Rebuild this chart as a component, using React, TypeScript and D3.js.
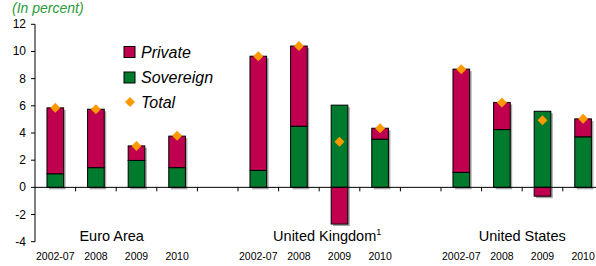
import * as d3 from 'd3'

const groups = ['Euro Area', 'United Kingdom', 'United States']
const periods = ['2002-07', '2008', '2009', '2010']
const sovereign = [
  [1.0, 1.45, 1.98, 1.45],
  [1.25, 4.5, 6.05, 3.55],
  [1.1, 4.25, 5.6, 3.72],
]
const privateVals = [
  [4.85, 4.3, 1.07, 2.32],
  [8.4, 5.9, -2.7, 0.8],
  [7.6, 2.0, -0.65, 1.32],
]
const totals = [
  [5.85, 5.75, 3.05, 3.8],
  [9.65, 10.4, 3.35, 4.35],
  [8.7, 6.25, 4.93, 5.05],
]
const yTicks = [-4, -2, 0, 2, 4, 6, 8, 10, 12]

const W = 596
const H = 266
const PRIVATE = '#c0004e'
const SOVEREIGN = '#007a2c'
const TOTAL = '#ff9900'
const FONT = '"Liberation Sans", Arial, sans-serif'

// 14 slots: 4 bars, one gap, 4 bars, one gap, 4 bars
const slots: string[] = []
groups.forEach((g, gi) => {
  periods.forEach(p => slots.push(`${g}|${p}`))
  if (gi < groups.length - 1) slots.push(`gap${gi}`)
})

const x = d3.scaleBand().domain(slots).range([35, 603.4]).padding(0)
const y = d3.scaleLinear().domain([-4, 12]).range([241.7, 24.3])
const barW = x.bandwidth() * 0.41
const diamond = d3.symbol().type(d3.symbolSquare).size(50)()

const labelOffset = [-4.5, 8, 0]

export default function App() {
  const bars: JSX.Element[] = []
  groups.forEach((g, gi) => {
    periods.forEach((p, pi) => {
      const cx = x(`${g}|${p}`)! + x.bandwidth() / 2
      const s = sovereign[gi][pi]
      const pv = privateVals[gi][pi]
      const segs: { v0: number; v1: number; c: string }[] = []
      segs.push({ v0: 0, v1: s, c: SOVEREIGN })
      if (pv >= 0) segs.push({ v0: s, v1: s + pv, c: PRIVATE })
      else segs.push({ v0: pv, v1: 0, c: PRIVATE })
      const lo = Math.min(0, pv)
      const hi = s + Math.max(0, pv)
      bars.push(
        <g key={`${g}${p}`}>
          <rect x={cx - barW / 2 + 2} y={y(hi) + 2} width={barW} height={y(lo) - y(hi)} fill="#a8a8a8" />
          {segs.map((sg, i) => (
            <rect key={i} x={cx - barW / 2} y={y(sg.v1)} width={barW} height={y(sg.v0) - y(sg.v1)}
              fill={sg.c} stroke="#000" strokeWidth={1} />
          ))}
        </g>
      )
    })
  })

  const diamonds = groups.flatMap((g, gi) =>
    periods.map((p, pi) => {
      const cx = x(`${g}|${p}`)! + x.bandwidth() / 2
      return <path key={`d${g}${p}`} d={diamond!} fill={TOTAL}
        transform={`translate(${cx},${y(totals[gi][pi])}) rotate(45)`} />
    })
  )

  const step = x.step()
  return (
    <svg width={W} height={H} style={{ position: 'absolute', left: 0, top: 0 }} fontFamily={FONT}>
      <text x={12} y={12.5} fontSize={14} fontStyle="italic" fill="#2b9a3a">(In percent)</text>

      {/* y axis */}
      <line x1={35} x2={35} y1={y(12)} y2={y(-4)} stroke="#000" />
      {yTicks.map(t => (
        <g key={t}>
          <line x1={31} x2={35} y1={y(t)} y2={y(t)} stroke="#000" />
          <text x={26} y={y(t) + 4} fontSize={12} textAnchor="end">{t}</text>
        </g>
      ))}

      {bars}

      {/* x axis */}
      <line x1={35} x2={W} y1={y(0)} y2={y(0)} stroke="#000" />
      {slots.map((s, i) => i > 0 && (
        <line key={s} x1={x(s)!} x2={x(s)!} y1={y(0)} y2={y(0) + 4} stroke="#000" />
      ))}

      {diamonds}

      {/* period labels */}
      {groups.flatMap(g => periods.map(p => (
        <text key={`l${g}${p}`} x={x(`${g}|${p}`)! + x.bandwidth() / 2} y={260}
          fontSize={10.5} textAnchor="middle">{p}</text>
      )))}

      {/* group labels */}
      {groups.map((g, gi) => {
        const cx = x(`${g}|${periods[0]}`)! + 2 * step + labelOffset[gi]
        return (
          <text key={g} x={cx} y={241} fontSize={14.5} textAnchor="middle">
            {g}
            {gi === 1 && <tspan fontSize={9} dy={-6}>1</tspan>}
          </text>
        )
      })}

      {/* legend */}
      <rect x={124} y={46.5} width={11} height={11} fill={PRIVATE} stroke="#000" />
      <text x={141} y={57.5} fontSize={16} fontStyle="italic">Private</text>
      <rect x={124} y={72} width={11} height={11} fill={SOVEREIGN} stroke="#000" />
      <text x={141} y={83} fontSize={16} fontStyle="italic">Sovereign</text>
      <path d={diamond!} fill={TOTAL} transform="translate(130,102) rotate(45)" />
      <text x={141} y={108} fontSize={16} fontStyle="italic">Total</text>
    </svg>
  )
}
